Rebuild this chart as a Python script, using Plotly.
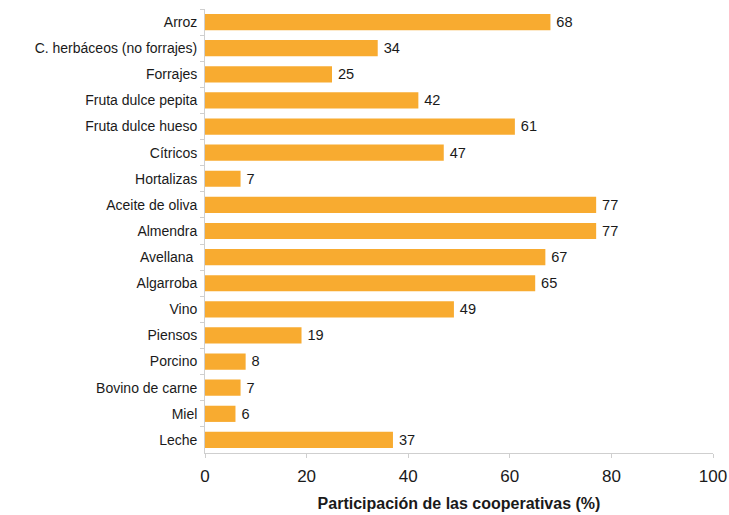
import plotly.graph_objects as go

categories = [
    "Arroz", "C. herbáceos (no forrajes)", "Forrajes", "Fruta dulce pepita",
    "Fruta dulce hueso", "Cítricos", "Hortalizas", "Aceite de oliva", "Almendra",
    "Avellana ", "Algarroba", "Vino", "Piensos", "Porcino", "Bovino de carne",
    "Miel", "Leche",
]
values = [68, 34, 25, 42, 61, 47, 7, 77, 77, 67, 65, 49, 19, 8, 7, 6, 37]
x_ticks = [0, 20, 40, 60, 80, 100]

BAR = "#F8AB30"
AXIS = "#CFCFCF"

fig = go.Figure(go.Bar(
    x=values, y=categories, orientation="h",
    marker=dict(color=BAR, line=dict(width=0)),
    text=["\u2009" + str(v) for v in values], textposition="outside",
    textfont=dict(size=18, color="#1a1a1a", family="Liberation Sans, Arial"),
    cliponaxis=False, width=0.62,
))

fig.update_layout(
    width=729, height=515, plot_bgcolor="white", paper_bgcolor="white",
    margin=dict(l=205, r=16, t=9, b=62, autoexpand=False),
    font=dict(family="Liberation Sans, Arial", color="#1a1a1a"),
    showlegend=False,
    xaxis=dict(
        range=[0, 100], tickvals=x_ticks, showgrid=False, zeroline=False,
        showline=True, linecolor=AXIS, linewidth=1, ticks="outside",
        tickcolor=AXIS, ticklen=4, tickfont=dict(size=17), automargin=False,
        ticklabelstandoff=4,
        title=dict(text="<b>Participación de las cooperativas (%)</b>",
                   font=dict(size=16), standoff=12),
    ),
    yaxis=dict(
        autorange="reversed", showgrid=False, showline=True, linecolor=AXIS,
        linewidth=1, ticks="outside", tickson="boundaries", tickcolor=AXIS,
        ticklen=4, tickfont=dict(size=14), ticksuffix=" ", automargin=False,
    ),
)

# drop the default 8px body margin so the figure fills the window exactly
fig.write_html("out.html", config={"displayModeBar": False},
               post_script="document.body.style.margin='0';")
